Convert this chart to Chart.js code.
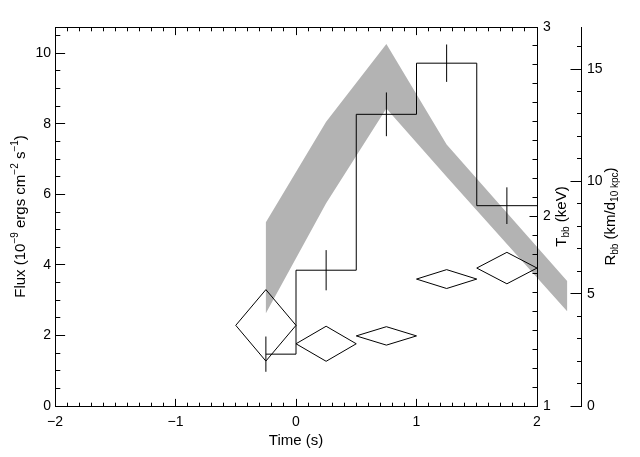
<!DOCTYPE html>
<html>
<head>
<meta charset="utf-8">
<script src="https://cdn.jsdelivr.net/npm/chart.js@4.4.1/dist/chart.umd.min.js"></script>
<style>
  html, body { margin: 0; padding: 0; background: #fff; }
  canvas { display: block; }
</style>
</head>
<body>
<canvas id="chart" width="640" height="457"></canvas>
<script>
// flux histogram, 0.5 s bins (centres)
const fluxTimes = [-0.25, 0.25, 0.75, 1.25, 1.75];
const fluxValues = [1.47, 3.85, 8.27, 9.72, 5.68];
const fluxErrors = [0.50, 0.57, 0.62, 0.53, 0.52];
const binHalfWidth = 0.25;

// blackbody radius (diamonds)
const radiusTimes = [-0.25, 0.25, 0.75, 1.25, 1.75];
const radiusValues = [3.59, 2.77, 3.12, 5.65, 6.14];
const radiusErrors = [1.59, 0.78, 0.41, 0.42, 0.70];

// blackbody temperature range (grey band)
const tempTimes = [-0.25, 0.25, 0.75, 1.25, 1.75, 2.25];
const tempLow = [1.49, 2.07, 2.57, 2.21, 1.855, 1.50];
const tempHigh = [1.97, 2.50, 2.91, 2.38, 2.02, 1.66];

// tick labels
const timeTicks = [-2, -1, 0, 1, 2];
const fluxTicks = [0, 2, 4, 6, 8, 10];
const tempTicks = [1, 2, 3];
const radiusTicks = [0, 5, 10, 15];

const FONT = '"Liberation Sans", Arial, sans-serif';

// histogram drawn idl-style: starts at first centre, ends half a bin after last
const histPoints = fluxTimes.map((t, i) => ({x: i === 0 ? t : t - binHalfWidth, y: fluxValues[i]}));
histPoints.push({x: fluxTimes[fluxTimes.length - 1] + binHalfWidth, y: fluxValues[fluxValues.length - 1]});

const errPoints = [];
fluxTimes.forEach((t, i) => {
  errPoints.push({x: t, y: fluxValues[i] - fluxErrors[i]});
  errPoints.push({x: t, y: fluxValues[i] + fluxErrors[i]});
  errPoints.push({x: t, y: null});
});

const diamondPoints = [];
radiusTimes.forEach((t, i) => {
  const r = radiusValues[i], e = radiusErrors[i];
  diamondPoints.push({x: t - binHalfWidth, y: r});
  diamondPoints.push({x: t, y: r + e});
  diamondPoints.push({x: t + binHalfWidth, y: r});
  diamondPoints.push({x: t, y: r - e});
  diamondPoints.push({x: t - binHalfWidth, y: r});
  diamondPoints.push({x: t, y: null});
});

const setTicks = values => scale => { scale.ticks = values.map(v => ({value: v})); };

const bandPlugin = {
  id: 'tempBand',
  beforeDraw(chart) {
    const {ctx} = chart;
    const x = chart.scales.x, t = chart.scales.yTemp;
    ctx.save();
    ctx.fillStyle = '#b3b3b3';
    ctx.beginPath();
    tempTimes.forEach((tm, i) => {
      const px = x.getPixelForValue(tm), py = t.getPixelForValue(tempHigh[i]);
      if (i === 0) ctx.moveTo(px, py); else ctx.lineTo(px, py);
    });
    for (let i = tempTimes.length - 1; i >= 0; i--) {
      ctx.lineTo(x.getPixelForValue(tempTimes[i]), t.getPixelForValue(tempLow[i]));
    }
    ctx.closePath();
    ctx.fill();
    ctx.restore();
  }
};

// inward major/minor tick marks, idl style
const tickSpecs = [
  {scale: 'x', edge: 'bottom', step: 1, len: 7.6},
  {scale: 'x', edge: 'bottom', step: 0.1, len: 3.8},
  {scale: 'x', edge: 'top', step: 1, len: 7.6},
  {scale: 'x', edge: 'top', step: 0.1, len: 3.8},
  {scale: 'y', edge: 'left', step: 2, len: 9.6},
  {scale: 'y', edge: 'left', step: 0.5, len: 4.8},
  {scale: 'yTemp', edge: 'right', step: 1, len: 8},
  {scale: 'yTemp', edge: 'right', step: 0.1, len: 5},
  {scale: 'yRadius', edge: 'outer', step: 5, len: 11},
  {scale: 'yRadius', edge: 'outer', step: 1, len: 4.5}
];

const tickPlugin = {
  id: 'tickMarks',
  afterDatasetsDraw(chart) {
    const {ctx, chartArea: area} = chart;
    ctx.save();
    ctx.strokeStyle = '#000';
    ctx.lineWidth = 1;
    ctx.beginPath();
    tickSpecs.forEach(spec => {
      const s = chart.scales[spec.scale];
      const n = Math.floor((s.max - s.min) / spec.step + 1e-6);
      for (let k = 0; k <= n; k++) {
        const v = s.min + k * spec.step;
        const p = Math.floor(s.getPixelForValue(v) + 1e-6) + 0.5;
        if (spec.edge === 'bottom') {
          ctx.moveTo(p, area.bottom + 0.5); ctx.lineTo(p, area.bottom + 0.5 - spec.len);
        } else if (spec.edge === 'top') {
          ctx.moveTo(p, area.top + 0.5); ctx.lineTo(p, area.top + 0.5 + spec.len);
        } else if (spec.edge === 'left') {
          ctx.moveTo(area.left + 0.5, p); ctx.lineTo(area.left + 0.5 + spec.len, p);
        } else if (spec.edge === 'right') {
          ctx.moveTo(area.right + 0.5, p); ctx.lineTo(area.right + 0.5 - spec.len, p);
        } else {
          ctx.moveTo(s.left + 0.5, p); ctx.lineTo(s.left + 0.5 - spec.len, p);
        }
      }
    });
    ctx.stroke();
    ctx.restore();
  }
};

function drawRotatedTitle(ctx, parts, cx, cy) {
  ctx.save();
  ctx.translate(cx, cy);
  ctx.rotate(-Math.PI / 2);
  ctx.fillStyle = '#000';
  ctx.textBaseline = 'alphabetic';
  ctx.textAlign = 'left';
  const fontFor = p => (p.script ? '10px ' : '15px ') + FONT;
  let total = 0;
  parts.forEach(p => { ctx.font = fontFor(p); total += ctx.measureText(p.text).width; });
  let pos = -total / 2;
  parts.forEach(p => {
    ctx.font = fontFor(p);
    const shift = p.script === 'sup' ? -7 : p.script === 'sub' ? 3 : 0;
    ctx.fillText(p.text, pos, shift);
    pos += ctx.measureText(p.text).width;
  });
  ctx.restore();
}

const titlePlugin = {
  id: 'axisTitles',
  afterDraw(chart) {
    const {ctx, chartArea: area} = chart;
    const cy = (area.top + area.bottom) / 2;
    drawRotatedTitle(ctx, [
      {text: 'Flux (10'}, {text: '\u22129', script: 'sup'},
      {text: ' ergs cm'}, {text: '\u22122', script: 'sup'},
      {text: ' s'}, {text: '\u22121', script: 'sup'}, {text: ')'}
    ], 25, cy);
    drawRotatedTitle(ctx, [
      {text: 'T'}, {text: 'bb', script: 'sub'}, {text: ' (keV)'}
    ], 566, cy);
    drawRotatedTitle(ctx, [
      {text: 'R'}, {text: 'bb', script: 'sub'}, {text: ' (km/d'},
      {text: '10 kpc', script: 'sub'}, {text: ')'}
    ], 615, cy);
  }
};

const lineStyle = {showLine: true, borderColor: '#000', borderWidth: 1, pointRadius: 0, fill: false, tension: 0};
const tickFont = {family: FONT, size: 14};
const noGrid = {display: false, drawTicks: false};
const border = {display: true, color: '#000', width: 1};

new Chart(document.getElementById('chart'), {
  type: 'scatter',
  data: {
    datasets: [
      {...lineStyle, label: 'Flux', data: histPoints, stepped: 'before', xAxisID: 'x', yAxisID: 'y'},
      {...lineStyle, label: 'Flux error', data: errPoints, spanGaps: false, xAxisID: 'x', yAxisID: 'y'},
      {...lineStyle, label: 'Rbb', data: diamondPoints, spanGaps: false, xAxisID: 'x', yAxisID: 'yRadius'}
    ]
  },
  options: {
    responsive: false,
    animation: false,
    devicePixelRatio: 1,
    layout: {padding: {top: 27, left: 0, right: 0, bottom: 0}},
    plugins: {legend: {display: false}, tooltip: {enabled: false}},
    scales: {
      x: {
        type: 'linear', axis: 'x', position: 'bottom', min: -2, max: 2,
        afterBuildTicks: setTicks(timeTicks),
        afterFit: s => { s.height = 51; },
        grid: noGrid, border,
        ticks: {color: '#000', font: tickFont, padding: 8, maxRotation: 0, autoSkip: false,
          callback: v => String(v).replace('-', '\u2212')},
        title: {display: true, text: 'Time (s)', color: '#000', font: {family: FONT, size: 15},
          padding: {top: 0, bottom: 7}}
      },
      xTop: {
        type: 'linear', axis: 'x', position: 'top', min: -2, max: 2,
        afterFit: s => { s.height = 0; },
        grid: noGrid, border, ticks: {display: false}
      },
      y: {
        type: 'linear', axis: 'y', position: 'left', min: 0, max: 10.746,
        afterBuildTicks: setTicks(fluxTicks),
        afterFit: s => { s.width = 55; },
        grid: noGrid, border,
        ticks: {color: '#000', font: tickFont, padding: 4, autoSkip: false}
      },
      yTemp: {
        type: 'linear', axis: 'y', position: 'right', min: 1, max: 3, weight: 0,
        afterBuildTicks: setTicks(tempTicks),
        afterFit: s => { s.width = 44; },
        grid: noGrid, border,
        ticks: {color: '#000', font: tickFont, padding: 6, autoSkip: false}
      },
      yRadius: {
        type: 'linear', axis: 'y', position: 'right', min: 0, max: 16.87, weight: 1,
        afterBuildTicks: setTicks(radiusTicks),
        afterFit: s => { s.width = 59; },
        grid: noGrid, border,
        ticks: {color: '#000', font: tickFont, padding: 6, autoSkip: false}
      }
    }
  },
  plugins: [bandPlugin, tickPlugin, titlePlugin]
});
</script>
</body>
</html>
